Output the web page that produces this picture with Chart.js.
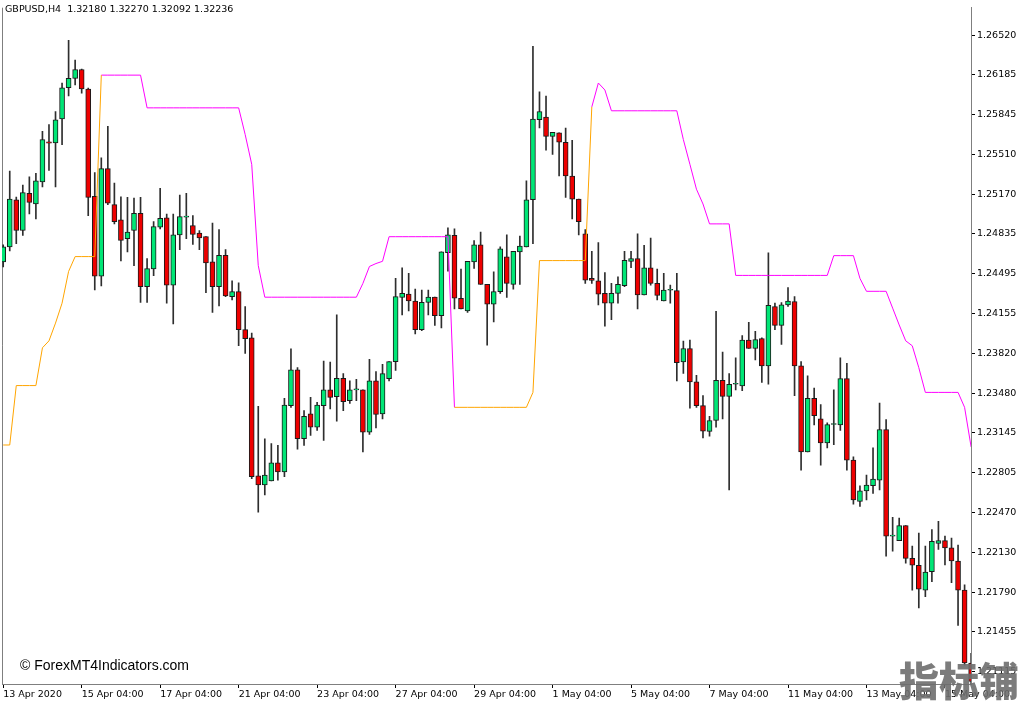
<!DOCTYPE html>
<html>
<head>
<meta charset="utf-8">
<title>GBPUSD,H4</title>
<script src="https://cdn.jsdelivr.net/npm/chart.js@4.4.1/dist/chart.umd.min.js"></script>
<style>
  body { margin: 0; background: #ffffff; }
  #chart_box { position: relative; width: 1024px; height: 705px; overflow: hidden; }
  #gbpusd_h4 { position: absolute; left: 0; top: 0; }
  .chart_text { position: absolute; white-space: pre; }
  #symbol_text { left: 5px; top: 3px; font: 9.5px "DejaVu Sans", sans-serif; color: #000; }
  #copy_text { left: 20px; top: 657px; font: 14px/16px "Liberation Sans", Arial, sans-serif; color: #000; }
  #wm_text { left: 899px; top: 656px; font: 900 40px/46px "Noto Sans CJK SC", sans-serif; color: rgba(110,110,110,0.9); }
</style>
</head>
<body>
<div id="chart_box">
  <canvas id="gbpusd_h4" width="1024" height="705"></canvas>
  <div class="chart_text" id="symbol_text">GBPUSD,H4  1.32180 1.32270 1.32092 1.32236</div>
  <div class="chart_text" id="copy_text">© ForexMT4Indicators.com</div>
  <div class="chart_text" id="wm_text">指标铺</div>
</div>
<script>
const _ = null;

// H4 bars, 13 Apr 04:00 .. 15 May 2020
const bar_opens = [
  1.24596, 1.24723, 1.25124, 1.24863, 1.25178, 1.25088, 1.25276, 1.25616, 1.25608, 1.25810,
  1.26076, 1.26155, 1.26231, 1.26065, 1.25153, 1.24475, 1.25388, 1.25082, 1.24953, 1.24793,
  1.24863, 1.25009, 1.24386, 1.24537, 1.24891, 1.24970, 1.24399, 1.24826, 1.24976, 1.24905,
  1.24841, 1.24812, 1.24596, 1.24386, 1.24652, 1.24301, 1.24343, 1.24020, 1.23950, 1.22779,
  1.22700, 1.22734, 1.22888, 1.22812, 1.23374, 1.23678, 1.23093, 1.23304, 1.23192, 1.23374,
  1.23509, 1.23450, 1.23607, 1.23417, 1.23509, 1.23509, 1.23149, 1.23585, 1.23304, 1.23604,
  1.23748, 1.24293, 1.24323, 1.24264, 1.24020, 1.24251, 1.24296, 1.24138, 1.24675, 1.24821,
  1.24287, 1.24180, 1.24596, 1.24742, 1.24405, 1.24237, 1.24343, 1.24638, 1.24405, 1.24681,
  1.24723, 1.25124, 1.25804, 1.25827, 1.25663, 1.25692, 1.25613, 1.25326, 1.25130, 1.24835,
  1.24456, 1.24436, 1.24329, 1.24245, 1.24329, 1.24394, 1.24601, 1.24624, 1.24315, 1.24546,
  1.24413, 1.24264, 1.24355, 1.24352, 1.23745, 1.23860, 1.23577, 1.23374, 1.23155, 1.23248,
  1.23590, 1.23453, 1.23556, 1.23543, 1.23931, 1.23860, 1.23944, 1.23712, 1.24217, 1.24057,
  1.24231, 1.24259, 1.23712, 1.22981, 1.23436, 1.23262, 1.23057, 1.23214, 1.23211, 1.23604,
  1.22911, 1.22560, 1.22650, 1.22694, 1.22742, 1.23172, 1.22265, 1.22228, 1.22355, 1.22077,
  1.22018, 1.21807, 1.21964, 1.22203, 1.22228, 1.22166, 1.22054, 1.21807, 1.21186
];
const bar_highs = [
  1.24742, 1.25368, 1.25147, 1.25248, 1.25318, 1.25349, 1.25705, 1.25762, 1.25874, 1.26116,
  1.26478, 1.26310, 1.26234, 1.26074, 1.25355, 1.25481, 1.25747, 1.25265, 1.25149, 1.25144,
  1.25138, 1.25144, 1.24624, 1.24938, 1.25222, 1.25003, 1.25003, 1.25163, 1.25178, 1.24989,
  1.24863, 1.24812, 1.24925, 1.24871, 1.24700, 1.24436, 1.24419, 1.24217, 1.23992, 1.23369,
  1.23093, 1.23051, 1.23037, 1.23436, 1.23857, 1.23697, 1.23332, 1.23444, 1.23402, 1.23754,
  1.23745, 1.24146, 1.23647, 1.23585, 1.23599, 1.23509, 1.23767, 1.23663, 1.23725, 1.23748,
  1.24456, 1.24546, 1.24498, 1.24365, 1.24357, 1.24357, 1.24296, 1.24681, 1.24885, 1.24877,
  1.24534, 1.24601, 1.24778, 1.24849, 1.24405, 1.24512, 1.24725, 1.24826, 1.24686, 1.24815,
  1.25284, 1.26427, 1.26042, 1.26006, 1.25697, 1.25692, 1.25734, 1.25630, 1.25130, 1.24871,
  1.24686, 1.24759, 1.24506, 1.24413, 1.24470, 1.24686, 1.24686, 1.24835, 1.24736, 1.24799,
  1.24534, 1.24498, 1.24399, 1.24498, 1.23922, 1.23931, 1.23632, 1.23459, 1.23284, 1.24175,
  1.23829, 1.23647, 1.23781, 1.23969, 1.24082, 1.24006, 1.23950, 1.24672, 1.24245, 1.24251,
  1.24377, 1.24301, 1.23748, 1.23627, 1.23523, 1.23383, 1.23229, 1.23509, 1.23781, 1.23733,
  1.22939, 1.22694, 1.22785, 1.23015, 1.23396, 1.23256, 1.22425, 1.22419, 1.22355, 1.22180,
  1.22292, 1.22180, 1.22321, 1.22391, 1.22265, 1.22250, 1.22189, 1.21852, 1.21270
];
const bar_lows = [
  1.24554, 1.24689, 1.24751, 1.24821, 1.25003, 1.24961, 1.25233, 1.25374, 1.25233, 1.25593,
  1.26006, 1.26099, 1.26029, 1.24989, 1.24357, 1.24391, 1.25082, 1.24919, 1.24605, 1.24681,
  1.24563, 1.24251, 1.24251, 1.24478, 1.24877, 1.24245, 1.24068, 1.24700, 1.24793, 1.24745,
  1.24700, 1.24335, 1.24167, 1.24222, 1.24301, 1.24273, 1.23885, 1.23818, 1.22753, 1.22469,
  1.22616, 1.22734, 1.22742, 1.22770, 1.23360, 1.23004, 1.23037, 1.23122, 1.23164, 1.23079,
  1.23346, 1.23242, 1.23332, 1.23394, 1.23417, 1.22981, 1.23130, 1.23186, 1.23262, 1.23585,
  1.23674, 1.24146, 1.24180, 1.23984, 1.24012, 1.24146, 1.24057, 1.24034, 1.24517, 1.24197,
  1.24197, 1.24167, 1.24540, 1.24405, 1.23888, 1.24085, 1.24329, 1.24293, 1.24365, 1.24405,
  1.24723, 1.24751, 1.25734, 1.25545, 1.25509, 1.25326, 1.25144, 1.24961, 1.24826, 1.24413,
  1.24413, 1.24231, 1.24049, 1.24104, 1.24245, 1.24386, 1.24546, 1.24197, 1.24315, 1.24399,
  1.24273, 1.24264, 1.24245, 1.23585, 1.23649, 1.23352, 1.23360, 1.23101, 1.23116, 1.23192,
  1.23262, 1.22658, 1.23509, 1.23501, 1.23860, 1.23762, 1.23571, 1.23556, 1.24020, 1.23894,
  1.24217, 1.23459, 1.22827, 1.22981, 1.23211, 1.22869, 1.23015, 1.23042, 1.23164, 1.22827,
  1.22537, 1.22517, 1.22574, 1.22629, 1.22658, 1.22096, 1.22138, 1.22228, 1.22035, 1.21807,
  1.21655, 1.21751, 1.21879, 1.22152, 1.22020, 1.21871, 1.21506, 1.21169, 1.20980
];
const bar_closes = [
  1.24723, 1.25130, 1.24863, 1.25186, 1.25102, 1.25284, 1.25635, 1.25604, 1.25804, 1.26076,
  1.26155, 1.26231, 1.26065, 1.25144, 1.24475, 1.25388, 1.25094, 1.24938, 1.24778, 1.24849,
  1.25009, 1.24386, 1.24540, 1.24896, 1.24967, 1.24399, 1.24826, 1.24981, 1.24976, 1.24829,
  1.24799, 1.24588, 1.24386, 1.24652, 1.24306, 1.24343, 1.24020, 1.23944, 1.22770, 1.22700,
  1.22785, 1.22888, 1.22812, 1.23379, 1.23678, 1.23093, 1.23284, 1.23192, 1.23379, 1.23509,
  1.23444, 1.23607, 1.23408, 1.23509, 1.23509, 1.23149, 1.23585, 1.23299, 1.23647, 1.23748,
  1.24301, 1.24329, 1.24264, 1.24020, 1.24253, 1.24296, 1.24138, 1.24681, 1.24826, 1.24287,
  1.24197, 1.24601, 1.24742, 1.24405, 1.24237, 1.24343, 1.24708, 1.24413, 1.24686, 1.24731,
  1.25124, 1.25810, 1.25874, 1.25663, 1.25697, 1.25613, 1.25326, 1.25130, 1.24938, 1.24441,
  1.24439, 1.24321, 1.24245, 1.24329, 1.24405, 1.24610, 1.24624, 1.24315, 1.24546, 1.24413,
  1.24310, 1.24357, 1.24355, 1.23739, 1.23860, 1.23577, 1.23374, 1.23158, 1.23248, 1.23590,
  1.23453, 1.23556, 1.23556, 1.23931, 1.23860, 1.23936, 1.23712, 1.24226, 1.24057, 1.24231,
  1.24264, 1.23712, 1.22981, 1.23436, 1.23290, 1.23057, 1.23213, 1.23214, 1.23604, 1.22911,
  1.22574, 1.22650, 1.22700, 1.22751, 1.23172, 1.22265, 1.22265, 1.22355, 1.22077, 1.22018,
  1.21815, 1.21961, 1.22222, 1.22228, 1.22166, 1.22054, 1.21807, 1.21188, 1.21030
];

// trend indicator, orange buffer (up) and magenta buffer (down)
const trend_up = [
  1.23040, 1.23040, 1.23545, 1.23545, 1.23545, 1.23545, 1.23866, 1.23925, 1.24076, 1.24245,
  1.24515, 1.24641, 1.24641, 1.24641, 1.24641, 1.26183, _, _, _, _,
  _, _, _, _, _, _, _, _, _, _,
  _, _, _, _, _, _, _, _, _, _,
  _, _, _, _, _, _, _, _, _, _,
  _, _, _, _, _, _, _, _, _, _,
  _, _, _, _, _, _, _, _, _, 1.23360,
  1.23360, 1.23360, 1.23360, 1.23360, 1.23360, 1.23360, 1.23360, 1.23360, 1.23360, 1.23360,
  1.23360, 1.23487, 1.24607, 1.24607, 1.24607, 1.24607, 1.24607, 1.24607, 1.24607, 1.24607,
  1.25913, _, _, _, _, _, _, _, _, _,
  _, _, _, _, _, _, _, _, _, _,
  _, _, _, _, _, _, _, _, _, _,
  _, _, _, _, _, _, _, _, _, _,
  _, _, _, _, _, _, _, _, _, _,
  _, _, _, _, _, _, _, _, _
];
const trend_down = [
  _, _, _, _, _, _, _, _, _, _,
  _, _, _, _, _, 1.26183, 1.26183, 1.26183, 1.26183, 1.26183,
  1.26183, 1.26183, 1.25905, 1.25905, 1.25905, 1.25905, 1.25905, 1.25905, 1.25905, 1.25905,
  1.25905, 1.25905, 1.25905, 1.25905, 1.25905, 1.25905, 1.25905, 1.25678, 1.25425, 1.24565,
  1.24296, 1.24296, 1.24296, 1.24296, 1.24296, 1.24296, 1.24296, 1.24296, 1.24296, 1.24296,
  1.24296, 1.24296, 1.24296, 1.24296, 1.24296, 1.24413, 1.24557, 1.24582, 1.24601, 1.24810,
  1.24810, 1.24810, 1.24810, 1.24810, 1.24810, 1.24810, 1.24810, 1.24810, 1.24810, 1.23360,
  _, _, _, _, _, _, _, _, _, _,
  _, _, _, _, _, _, _, _, _, _,
  1.25913, 1.26116, 1.26057, 1.25880, 1.25880, 1.25880, 1.25880, 1.25880, 1.25880, 1.25880,
  1.25880, 1.25880, 1.25880, 1.25880, 1.25635, 1.25425, 1.25214, 1.25088, 1.24919, 1.24919,
  1.24919, 1.24919, 1.24481, 1.24481, 1.24481, 1.24481, 1.24481, 1.24481, 1.24481, 1.24481,
  1.24481, 1.24481, 1.24481, 1.24481, 1.24481, 1.24481, 1.24481, 1.24649, 1.24649, 1.24649,
  1.24649, 1.24456, 1.24346, 1.24346, 1.24346, 1.24346, 1.24203, 1.24060, 1.23925, 1.23883,
  1.23697, 1.23487, 1.23487, 1.23487, 1.23487, 1.23487, 1.23487, 1.23360, 1.23023
];

const date_tick_bars = [0, 12, 24, 36, 48, 60, 72, 84, 96, 108, 120, 132, 144];
const date_tick_labels = ["13 Apr 2020", "15 Apr 04:00", "17 Apr 04:00", "21 Apr 04:00", "23 Apr 04:00",
  "27 Apr 04:00", "29 Apr 04:00", "1 May 04:00", "5 May 04:00", "7 May 04:00", "11 May 04:00",
  "13 May 04:00", "15 May 04:00"];
const price_ticks = [1.26520, 1.26185, 1.25845, 1.25510, 1.25170, 1.24835, 1.24495, 1.24155,
  1.23820, 1.23480, 1.23145, 1.22805, 1.22470, 1.22130, 1.21790, 1.21455, 1.21115];

// left frame line, the right and bottom lines come from the axes
const chart_frame = {
    id: "chart_frame",
    beforeDatasetsDraw(chart) {
        let area = chart.chartArea;
        let ctx = chart.ctx;
        ctx.save();
        ctx.strokeStyle = "#7f7f7f";
        ctx.lineWidth = 1;
        ctx.beginPath();
        ctx.moveTo(area.left + 0.5, area.bottom);
        ctx.lineTo(area.left + 0.5, area.top);
        ctx.stroke();
        ctx.restore();
    }
};

function draw_gbpusd_chart() {
    let wick_data = [];
    let body_data = [];
    let body_colors = [];
    let up_data = [];
    let down_data = [];

    for (let i = 0; i < bar_opens.length; i++) {
        wick_data.push({x: i, y: [bar_lows[i], bar_highs[i]]});
        body_data.push({x: i, y: [bar_opens[i], bar_closes[i]]});
        body_colors.push(bar_closes[i] >= bar_opens[i] ? "#00e676" : "#ee0000");
        up_data.push({x: i, y: trend_up[i]});
        down_data.push({x: i, y: trend_down[i]});
    }

    let axis_font = {family: "DejaVu Sans", size: 9.5};

    new Chart("gbpusd_h4", {
        type: "bar",
        data: {
            datasets: [{
                type: "line",
                data: up_data,
                borderColor: "#ffa500",
                borderWidth: 1,
                pointRadius: 0,
                tension: 0,
                clip: 0,
                order: 0
            }, {
                type: "line",
                data: down_data,
                borderColor: "#ff00ff",
                borderWidth: 1,
                pointRadius: 0,
                tension: 0,
                clip: 0,
                order: 0
            }, {
                data: body_data,
                backgroundColor: body_colors,
                borderColor: "#1a1a1a",
                borderWidth: 1,
                borderSkipped: false,
                barThickness: 5,
                maxBarThickness: 5,
                minBarLength: 1,
                grouped: false,
                clip: 0,
                order: 1
            }, {
                data: wick_data,
                backgroundColor: "#2e2e2e",
                borderWidth: 0,
                barThickness: 1,
                maxBarThickness: 1,
                grouped: false,
                clip: 0,
                order: 2
            }]
        },
        options: {
            responsive: false,
            animation: false,
            devicePixelRatio: 1,
            events: [],
            layout: {padding: {left: 2, top: 2, right: 0, bottom: 0}},
            plugins: {
                legend: {display: false},
                tooltip: {enabled: false},
                title: {display: false}
            },
            scales: {
                x: {
                    type: "linear",
                    position: "bottom",
                    min: -0.1835,
                    max: 147.98,
                    offset: false,
                    afterBuildTicks: function (scale) {
                        scale.ticks = date_tick_bars.map(v => ({value: v}));
                    },
                    afterFit: function (scale) { scale.height = 21; },
                    grid: {drawOnChartArea: false, drawTicks: true, tickLength: 4, color: "#000000", offset: false},
                    border: {display: true, color: "#7f7f7f", width: 1},
                    ticks: {
                        align: "start",
                        autoSkip: false,
                        maxRotation: 0,
                        minRotation: 0,
                        padding: 1,
                        color: "#000000",
                        font: axis_font,
                        callback: function (v, idx) { return date_tick_labels[idx]; }
                    }
                },
                y: {
                    type: "linear",
                    position: "right",
                    min: 1.21009,
                    max: 1.26756,
                    beginAtZero: false,
                    afterBuildTicks: function (scale) {
                        scale.ticks = price_ticks.map(v => ({value: v}));
                    },
                    afterFit: function (scale) { scale.width = 53; },
                    grid: {drawOnChartArea: false, drawTicks: true, tickLength: 4, color: "#000000"},
                    border: {display: true, color: "#7f7f7f", width: 1},
                    ticks: {
                        autoSkip: false,
                        padding: 2,
                        color: "#000000",
                        font: axis_font,
                        callback: function (v) { return v.toFixed(5); }
                    }
                }
            }
        },
        plugins: [chart_frame]
    });
}

draw_gbpusd_chart();
</script>
</body>
</html>
